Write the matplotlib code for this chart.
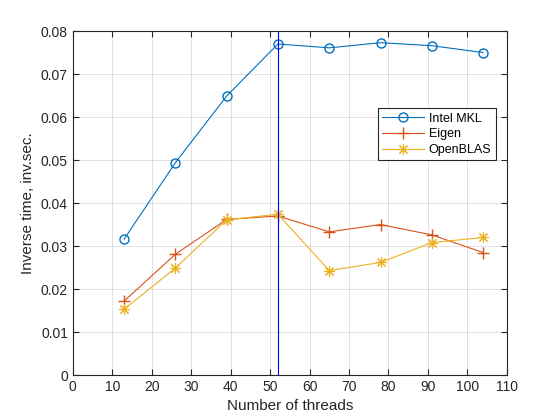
import matplotlib
matplotlib.use("Agg")
import matplotlib.pyplot as plt

threads = [13, 26, 39, 52, 65, 78, 91, 104]
mkl = [0.0316, 0.0494, 0.0649, 0.0770, 0.0761, 0.0773, 0.0766, 0.0750]
eigen = [0.0172, 0.0281, 0.0362, 0.0370, 0.0333, 0.0350, 0.0326, 0.0285]
openblas = [0.0153, 0.0249, 0.0361, 0.0374, 0.0243, 0.0262, 0.0308, 0.0320]
marker_x = 52

plt.rcParams['font.family'] = ['Liberation Sans', 'DejaVu Sans']
plt.rcParams['font.size'] = 10

fig = plt.figure(figsize=(5.6, 4.2), dpi=100)
ax = fig.add_axes([0.13, 0.107, 0.775, 0.819])

ax.plot(threads, mkl, color='#0072BD', marker='o', mfc='none', ms=6.5, lw=0.8, label='Intel MKL')
ax.plot(threads, eigen, color='#D95319', marker='+', ms=8, lw=0.8, label='Eigen')
ax.plot(threads, openblas, color='#EDB120', marker=(8, 2, 0), ms=8, mew=0.8, lw=0.8, label='OpenBLAS')
ax.axvline(marker_x, color='blue', lw=0.8)

ax.set_xlim(0, 110)
ax.set_ylim(0, 0.08)
ax.set_xticks(range(0, 111, 10))
ax.set_yticks([i / 100 for i in range(9)])
ax.set_yticklabels(['0'] + ['%.2f' % (i / 100) for i in range(1, 9)])
ax.grid(True, color='#262626', alpha=0.15, lw=0.6)
ax.tick_params(direction='in', top=True, right=True, length=4, colors='#262626', labelcolor='#262626')
for s in ax.spines.values():
    s.set_color('#262626')
    s.set_linewidth(0.8)

ax.set_xlabel('Number of threads', color='#262626', fontsize=11)
ax.set_ylabel('Inverse time, inv.sec.', color='#262626', fontsize=11)

leg = ax.legend(loc='upper left', bbox_to_anchor=(0.703, 0.776), borderaxespad=0, fancybox=False,
                edgecolor='#262626', framealpha=1, borderpad=0.35, labelspacing=0.3,
                handlelength=3.3, handletextpad=0.4, fontsize=9)
leg.get_frame().set_linewidth(0.8)

fig.savefig('out.png', dpi=100)
